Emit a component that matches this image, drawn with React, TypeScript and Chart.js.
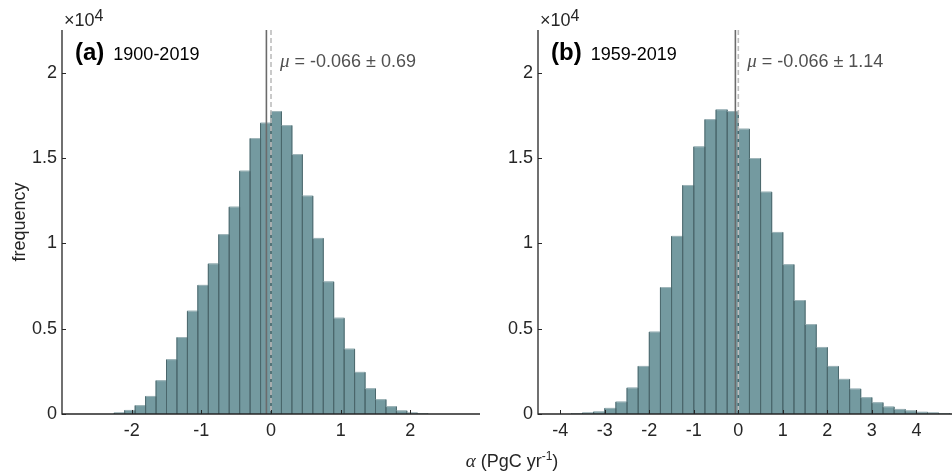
import React, { useEffect, useRef } from 'react';
import { Chart, registerables } from 'chart.js';

Chart.register(...registerables);

// ---- data ----
const binCentersA = [
  -2.175, -2.025, -1.875, -1.725, -1.575, -1.425, -1.275, -1.125, -0.975, -0.825,
  -0.675, -0.525, -0.375, -0.225, -0.075, 0.075, 0.225, 0.375, 0.525, 0.675,
  0.825, 0.975, 1.125, 1.275, 1.425, 1.575, 1.725, 1.875, 2.025, 2.175,
];
const countsA = [
  60, 210, 490, 1030, 1950, 3180, 4480, 6020, 7540, 8790,
  10510, 12120, 14230, 16140, 17040, 17720, 16900, 15200, 12770, 10290,
  7740, 5610, 3800, 2440, 1480, 840, 430, 180, 60, 20,
];
const binCentersB = [
  -3.625, -3.375, -3.125, -2.875, -2.625, -2.375, -2.125, -1.875, -1.625, -1.375,
  -1.125, -0.875, -0.625, -0.375, -0.125, 0.125, 0.375, 0.625, 0.875, 1.125,
  1.375, 1.625, 1.875, 2.125, 2.375, 2.625, 2.875, 3.125, 3.375, 3.625,
  3.875, 4.125, 4.375, 4.625,
];
const countsB = [
  20, 60, 120, 330, 700, 1520, 2790, 4800, 7410, 10410,
  13390, 15650, 17250, 17820, 17720, 16690, 14970, 13000, 10640, 8750,
  6650, 5240, 3900, 2790, 2030, 1460, 960, 660, 410, 270,
  180, 100, 60, 30,
];
const yTickValues = [0, 5000, 10000, 15000, 20000];
const xTicksA = [-2, -1, 0, 1, 2];
const xTicksB = [-4, -3, -2, -1, 0, 1, 2, 3, 4];
const meanA = -0.066;
const meanB = -0.066;
const sdA = '0.69';
const sdB = '1.14';
const panelLabelA = '(a)';
const panelLabelB = '(b)';
const periodA = '1900-2019';
const periodB = '1959-2019';

const FILL = 'rgb(116,154,160)';
const EDGE = 'rgb(74,102,107)';
const TOPEDGE = 'rgb(160,182,186)';
const AXIS = '#262626';
const SANS = '"Liberation Sans", Arial, sans-serif';
const SERIF = '"Liberation Serif", "DejaVu Serif", serif';

type Panel = {
  centers: number[];
  counts: number[];
  xTicks: number[];
  xMin: number;
  xMax: number;
  mean: number;
  sd: string;
  label: string;
  period: string;
  yAxisWidth: number;
  padRight: number;
  shared: boolean;
};

function makePlugin(p: Panel) {
  return {
    id: 'decor' + p.label,
    afterDatasetsDraw(chart: any) {
      const { ctx, chartArea: ca } = chart;
      const meta = chart.getDatasetMeta(0);
      ctx.save();
      ctx.beginPath();
      ctx.rect(ca.left, ca.top, ca.right - ca.left, ca.bottom - ca.top);
      ctx.clip();
      ctx.lineWidth = 1;
      for (const el of meta.data) {
        const { x, y, base, width } = el.getProps(['x', 'y', 'base', 'width'], true);
        const l = x - width / 2;
        const r = x + width / 2;
        ctx.strokeStyle = TOPEDGE;
        ctx.beginPath();
        ctx.moveTo(l, y);
        ctx.lineTo(r, y);
        ctx.stroke();
        ctx.strokeStyle = EDGE;
        ctx.beginPath();
        ctx.moveTo(l, base);
        ctx.lineTo(l, y);
        ctx.moveTo(r, y);
        ctx.lineTo(r, base);
        ctx.stroke();
      }
      ctx.restore();
    },
    afterDraw(chart: any) {
      const { ctx, chartArea: ca, scales } = chart;
      const x = scales.x;
      const y = scales.y;
      ctx.save();
      // mean line (solid) and zero line (dashed)
      const xm = x.getPixelForValue(p.mean);
      ctx.strokeStyle = '#6b6b6b';
      ctx.lineWidth = 1.6;
      ctx.beginPath();
      ctx.moveTo(xm, ca.top);
      ctx.lineTo(xm, ca.bottom);
      ctx.stroke();
      const x0 = x.getPixelForValue(0);
      ctx.strokeStyle = '#bdbdbd';
      ctx.lineWidth = 1.6;
      ctx.setLineDash([5, 3]);
      ctx.beginPath();
      ctx.moveTo(x0, ca.top);
      ctx.lineTo(x0, ca.bottom);
      ctx.stroke();
      ctx.setLineDash([]);

      // axes
      ctx.strokeStyle = AXIS;
      ctx.lineWidth = 1.3;
      ctx.beginPath();
      ctx.moveTo(ca.left, ca.top);
      ctx.lineTo(ca.left, ca.bottom);
      ctx.lineTo(ca.right, ca.bottom);
      ctx.stroke();
      ctx.lineWidth = 1;
      ctx.beginPath();
      for (const v of p.xTicks) {
        const px = Math.round(x.getPixelForValue(v)) + 0.5;
        ctx.moveTo(px, ca.bottom);
        ctx.lineTo(px, ca.bottom - 4);
      }
      for (const v of yTickValues) {
        const py = Math.round(y.getPixelForValue(v)) + 0.5;
        ctx.moveTo(ca.left, py);
        ctx.lineTo(ca.left + 4, py);
      }
      ctx.stroke();

      // exponent
      ctx.fillStyle = AXIS;
      ctx.textBaseline = 'alphabetic';
      ctx.textAlign = 'left';
      ctx.font = '18px ' + SANS;
      ctx.fillText('\u00d710', ca.left + 2, 26);
      const w10 = ctx.measureText('\u00d710').width;
      ctx.font = '16px ' + SANS;
      ctx.fillText('4', ca.left + 2 + w10, 21);

      // panel label
      ctx.fillStyle = '#000';
      ctx.font = 'bold 24px ' + SANS;
      ctx.fillText(p.label, ca.left + 13, 60);
      const wl = ctx.measureText(p.label).width;
      ctx.font = '18px ' + SANS;
      ctx.fillText(p.period, ca.left + 13 + wl + 9, 60);

      // mu text
      ctx.fillStyle = '#505050';
      ctx.font = 'italic 19px ' + SERIF;
      const mx = x0 + 9;
      ctx.fillText('\u03bc', mx, 67);
      const wmu = ctx.measureText('\u03bc').width;
      ctx.font = '18px ' + SANS;
      ctx.fillText(' = ' + '-0.066' + ' \u00b1 ' + p.sd, mx + wmu, 67);

      if (p.shared) {
        // y title
        ctx.fillStyle = AXIS;
        ctx.save();
        ctx.translate(20, (ca.top + ca.bottom) / 2);
        ctx.rotate(-Math.PI / 2);
        ctx.textAlign = 'center';
        ctx.textBaseline = 'middle';
        ctx.font = '18px ' + SANS;
        ctx.fillText('frequency', 0, 0);
        ctx.restore();

        // x title (shared, centered between panels)
        ctx.textAlign = 'left';
        ctx.textBaseline = 'alphabetic';
        const parts: [string, string, number][] = [
          ['\u03b1', 'italic 19px ' + SERIF, 0],
          [' (PgC yr', '18px ' + SANS, 0],
          ['-1', '12px ' + SANS, -7],
          [')', '18px ' + SANS, 0],
        ];
        let total = 0;
        for (const [t, f] of parts) {
          ctx.font = f;
          total += ctx.measureText(t).width;
        }
        let cx = 512 - total / 2;
        for (const [t, f, dy] of parts) {
          ctx.font = f;
          ctx.fillText(t, cx, 467 + dy);
          cx += ctx.measureText(t).width;
        }
      }
      ctx.restore();
    },
  };
}

function makeConfig(p: Panel): any {
  return {
    type: 'bar',
    data: {
      datasets: [
        {
          data: p.centers.map((c, i) => ({ x: c, y: p.counts[i] })),
          backgroundColor: FILL,
          borderWidth: 0,
          barPercentage: 1,
          categoryPercentage: 1,
          inflateAmount: 0.4,
        },
      ],
    },
    options: {
      responsive: false,
      animation: false,
      events: [],
      layout: { padding: { top: 30, left: 0, right: p.padRight, bottom: 0 } },
      plugins: { legend: { display: false }, tooltip: { enabled: false } },
      scales: {
        x: {
          type: 'linear',
          min: p.xMin,
          max: p.xMax,
          offset: false,
          grid: { display: false, drawTicks: false },
          border: { display: false },
          afterBuildTicks: (s: any) => {
            s.ticks = p.xTicks.map((v) => ({ value: v }));
          },
          afterFit: (s: any) => {
            s.height = 62;
          },
          ticks: {
            padding: 6,
            maxRotation: 0,
            autoSkip: false,
            color: AXIS,
            font: { family: SANS, size: 18 },
            callback: (v: number) => String(v),
          },
        },
        y: {
          min: 0,
          max: 22500,
          grid: { display: false, drawTicks: false },
          border: { display: false },
          afterBuildTicks: (s: any) => {
            s.ticks = yTickValues.map((v) => ({ value: v }));
          },
          afterFit: (s: any) => {
            s.width = p.yAxisWidth;
          },
          ticks: {
            padding: 5,
            color: AXIS,
            font: { family: SANS, size: 18 },
            callback: (v: number) => String(v / 10000),
          },
        },
      },
    },
    plugins: [makePlugin(p)],
  };
}

const panelA: Panel = {
  centers: binCentersA,
  counts: countsA,
  xTicks: xTicksA,
  xMin: -3,
  xMax: 3,
  mean: meanA,
  sd: sdA,
  label: panelLabelA,
  period: periodA,
  yAxisWidth: 62,
  padRight: 472,
  shared: true,
};

const panelB: Panel = {
  centers: binCentersB,
  counts: countsB,
  xTicks: xTicksB,
  xMin: -4.5,
  xMax: 4.8,
  mean: meanB,
  sd: sdB,
  label: panelLabelB,
  period: periodB,
  yAxisWidth: 58,
  padRight: 0,
  shared: false,
};

export default function App() {
  const refA = useRef<HTMLCanvasElement>(null);
  const refB = useRef<HTMLCanvasElement>(null);
  useEffect(() => {
    const a = new Chart(refA.current as HTMLCanvasElement, makeConfig(panelA));
    const b = new Chart(refB.current as HTMLCanvasElement, makeConfig(panelB));
    return () => {
      a.destroy();
      b.destroy();
    };
  }, []);
  return (
    <div style={{ position: 'absolute', left: 0, top: 0, width: 952, height: 476, background: '#fff' }}>
      <canvas ref={refA} width={952} height={476} style={{ position: 'absolute', left: 0, top: 0 }} />
      <canvas ref={refB} width={472} height={476} style={{ position: 'absolute', left: 480, top: 0 }} />
    </div>
  );
}
